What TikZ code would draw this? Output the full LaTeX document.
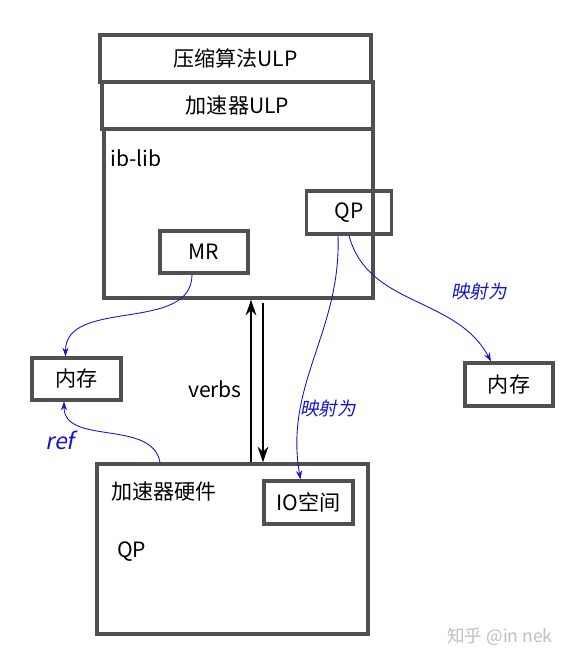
\documentclass[tikz,border=0pt]{standalone}
\usepackage{fontspec}
\setmainfont{Noto Sans CJK SC}
\newfontfamily\slantfont[FakeSlant=0.2]{Noto Sans CJK SC}
\usetikzlibrary{arrows.meta}
\definecolor{boxgray}{RGB}{80,80,80}
\definecolor{mapblue}{RGB}{20,20,205}

\begin{document}
\begin{tikzpicture}[x=0.02cm, y=-0.02cm, font=\fontsize{12}{14}\selectfont,
  box/.style={draw=boxgray, line width=1.8pt, inner sep=0pt},
  txt/.style={inner sep=0pt, anchor=west},
  mapto/.style={draw=mapblue, line width=0.5pt, -{Stealth[length=5pt, width=3.5pt]}},
  maplbl/.style={text=mapblue, inner sep=0pt, font=\fontsize{10.5}{12}\slantfont},
  verbsarrow/.style={line width=1.2pt, -{Stealth[length=9pt, width=6pt]}}]
\useasboundingbox (0,0) rectangle (583,665);
% ib-lib stack
\node (algo)[box, minimum width=5.42cm, minimum height=0.94cm] at (235.5,58.5) {压缩算法ULP};
\node (accu)[box, minimum width=5.42cm, minimum height=0.94cm] at (237.5,105.5) {加速器ULP};
\node (iblib)[box, minimum width=5.38cm, minimum height=3.38cm] at (238.5,213.5) {};
\node (iblibtxt)[txt] at (110,158) {ib-lib};
\node (qp)[box, minimum width=1.70cm, minimum height=0.86cm] at (349,212.5) {QP};
\node (mr)[box, minimum width=1.76cm, minimum height=0.84cm] at (204,252) {MR};
% memory
\node (memL)[box, minimum width=1.78cm, minimum height=0.84cm] at (76.5,379) {内存};
\node (memR)[box, minimum width=1.76cm, minimum height=0.86cm] at (509,384.5) {内存};
% hardware
\node (hw)[box, minimum width=5.42cm, minimum height=3.40cm] at (232.5,549) {};
\node (hwtxt)[txt] at (111,492) {加速器硬件};
\node (hwqp)[txt] at (117,552) {QP};
\node (io)[box, minimum width=1.78cm, minimum height=0.86cm] at (308.5,502.5) {IO空间};
% verbs
\node (verbs)[inner sep=0pt] at (215,389) {verbs};
\draw[verbsarrow] ([xshift=0.37cm]hw.north) -- ([xshift=0.37cm]hw.north |- iblib.south);
\draw[verbsarrow] ([xshift=0.61cm, yshift=-0.06cm]hw.north |- iblib.south) -- ([xshift=0.61cm]hw.north);
% mappings
\draw[mapto] ([xshift=-0.24cm]mr.south) to[out=-90, in=90] ([xshift=-0.22cm]memL.north);
\draw[mapto] ([xshift=-1.45cm]hw.north) to[out=100, in=-90] ([xshift=-0.25cm]memL.south);
\node (ref)[maplbl, font=\fontsize{13}{15}\slantfont] at (60,440) {ref};
\draw[mapto] (qp.south) to[out=-75, in=118] ([xshift=-0.36cm]memR.north);
\node (maplblR)[maplbl] at (479,292) {映射为};
\draw[mapto] ([xshift=-0.22cm]qp.south) to[out=-88, in=100] ([xshift=-0.16cm]io.north);
\node (maplblIO)[maplbl] at (328,409) {映射为};
% watermark
\node (mark)[inner sep=0pt, text=black!25, font=\fontsize{10}{12}\selectfont] at (500,637) {知乎 @in nek};
\end{tikzpicture}
\end{document}
